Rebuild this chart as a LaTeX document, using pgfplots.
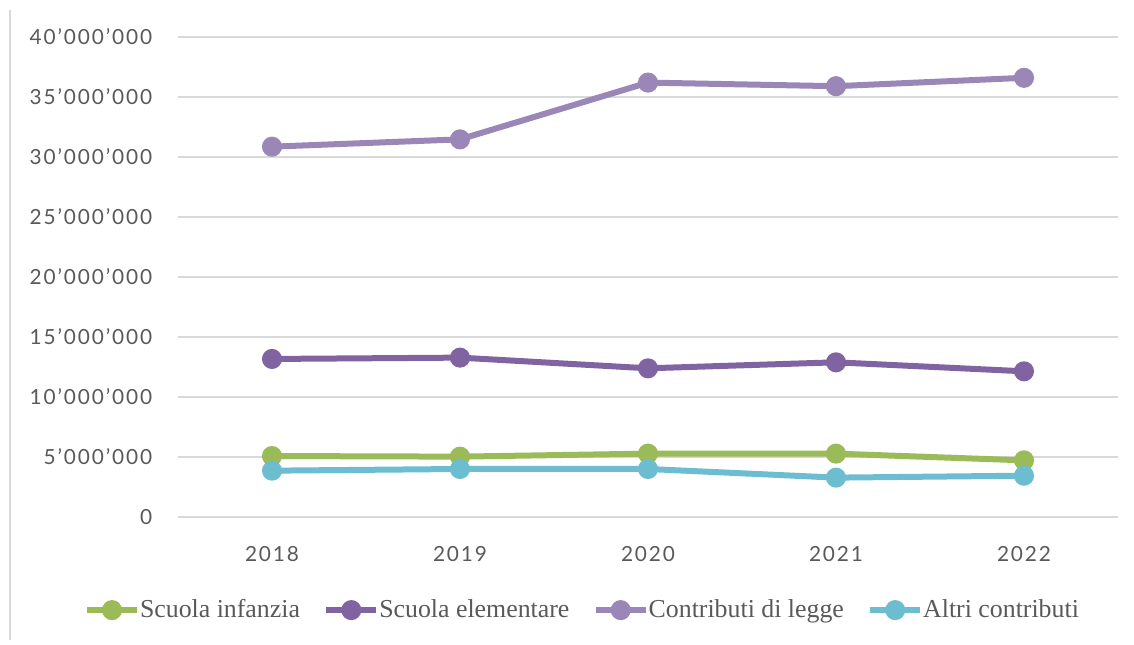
\documentclass[border=0pt]{standalone}
\usepackage{pgfplots}
\pgfplotsset{compat=1.18}
\usepackage{fontspec}
\setmainfont{Liberation Serif}
\newfontfamily\tickfont{Lato}[LetterSpace=9]

\definecolor{cInfanzia}{HTML}{9BBB59}
\definecolor{cElem}{HTML}{8064A2}
\definecolor{cLegge}{HTML}{9B86B8}
\definecolor{cAltri}{HTML}{6DBDD1}
\definecolor{gridc}{HTML}{D9D9D9}
\definecolor{txt}{HTML}{595959}

% 1 px of the reference = 0.6pt
\begin{document}
\begin{tikzpicture}
\path[use as bounding box] (0pt,0pt) rectangle (680.4pt,387pt);
\draw[gridc, line width=1.5pt] (6pt,3pt) -- (6pt,381pt);
\begin{axis}[
    at={(106.8pt,76.8pt)}, anchor=south west,
    scale only axis,
    width=564pt, height=288pt,
    xmin=-0.5, xmax=4.5,
    ymin=0, ymax=40000000,
    xtick={0,1,2,3,4},
    xticklabels={2018,2019,2020,2021,2022},
    ytick={0,5000000,10000000,15000000,20000000,25000000,30000000,35000000,40000000},
    scaled y ticks=false,
    /pgf/number format/fixed,
    /pgf/number format/1000 sep={’},
    /pgf/number format/assume math mode=true,
    ymajorgrids,
    grid style={gridc, line width=0.9pt},
    axis line style={draw=none},
    major tick length=0pt,
    tick label style={font=\tickfont\fontsize{12.5}{14}\selectfont, text=txt},
    yticklabel style={xshift=-12pt},
    xticklabel style={yshift=-14pt},
    clip=false,
    legend columns=4,
    legend style={draw=none, fill=none, at={(0.431,-0.194)}, anchor=center,
        font=\fontsize{15.5}{17}\selectfont, text=txt,
        /tikz/every odd column/.append style={column sep=-2pt},
        /tikz/every even column/.append style={column sep=12pt}},
    legend image code/.code={
        \draw[#1, mark repeat=2, mark phase=2] plot coordinates {(0pt,0pt) (15pt,0pt) (30pt,0pt)};
    },
    every axis plot/.append style={line width=3.6pt, mark=*, mark size=4.2pt},
]
\addplot[color=cInfanzia, mark options={fill=cInfanzia}] coordinates {
    (0,5080000) (1,5030000) (2,5280000) (3,5280000) (4,4720000)};
\addlegendentry{Scuola infanzia}
\addplot[color=cElem, mark options={fill=cElem}] coordinates {
    (0,13170000) (1,13280000) (2,12390000) (3,12890000) (4,12140000)};
\addlegendentry{Scuola elementare}
\addplot[color=cLegge, mark options={fill=cLegge}] coordinates {
    (0,30860000) (1,31470000) (2,36200000) (3,35900000) (4,36600000)};
\addlegendentry{Contributi di legge}
\addplot[color=cAltri, mark options={fill=cAltri}] coordinates {
    (0,3860000) (1,4000000) (2,4000000) (3,3280000) (4,3440000)};
\addlegendentry{Altri contributi}
\end{axis}
\end{tikzpicture}
\end{document}
